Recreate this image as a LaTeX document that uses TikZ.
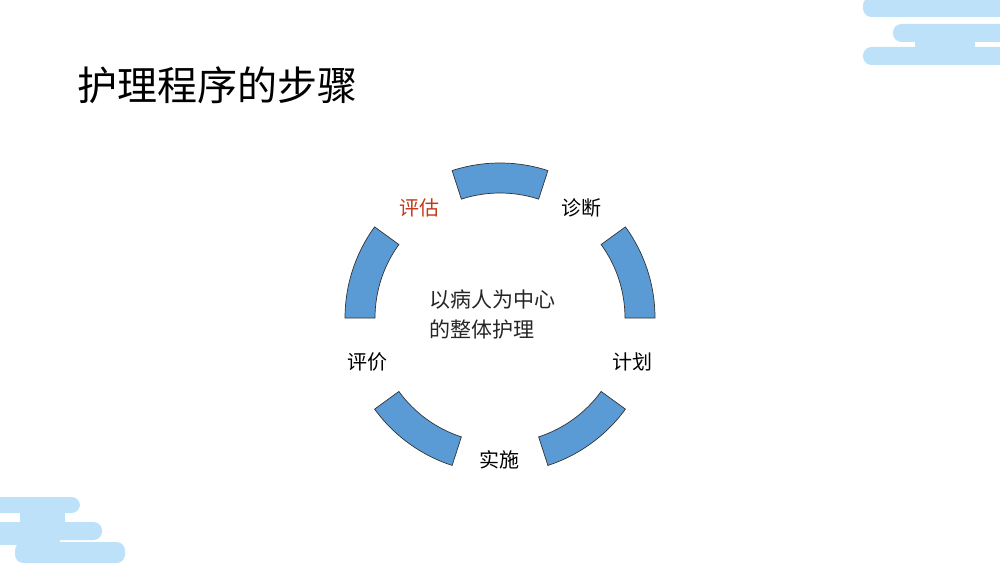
\documentclass[tikz,border=0pt]{standalone}
\usepackage{fontspec}
\setmainfont{Noto Sans CJK SC}
\begin{document}
\begin{tikzpicture}[x=1pt,y=1pt,
  seg/.style={fill=segblue,draw=black!80,line width=0.7pt},
  cloud/.style={fill=cloudblue,rounded corners=8.5pt},
  lab/.style={font=\fontsize{20}{24}\selectfont,text=black}]
\definecolor{segblue}{HTML}{5B9BD5}
\definecolor{cloudblue}{HTML}{BDE1F8}
\definecolor{redlab}{HTML}{C5391A}
\useasboundingbox (0,0) rectangle (1000,563);
\fill[white] (0,0) rectangle (1000,563);
% top-right clouds
\begin{scope}
\clip (0,0) rectangle (1000,563);
\fill[cloudblue] (975,521) rectangle (1010,539);
\fill[cloudblue] (915,512) rectangle (975,521);
\fill[cloud] (863,546) rectangle (1020,566);
\fill[cloud] (893,521) rectangle (1020,539);
\fill[cloud] (863,498) rectangle (1020,516);
% bottom-left clouds
\fill[cloudblue] (20,40) rectangle (65,50);
\fill[cloud] (-20,50) rectangle (80,66);
\fill[cloud] (-20,23) rectangle (102,41);
\fill[cloud] (15,0) rectangle (125,21);
\fill[cloudblue] (-5,18) rectangle (60,25);
\end{scope}
\node[anchor=west,font=\fontsize{40}{46}\selectfont] (title) at (74,478) {护理程序的步骤};
\begin{scope}[shift={(500,245)}]
\foreach \a/\n in {0/s1,72/s2,144/s3,216/s4,288/s5}{
  \draw[seg] (\a:155) arc[start angle=\a,end angle=\a+36,radius=155]
     -- (\a+36:125) arc[start angle=\a+36,end angle=\a,radius=125] -- cycle;
}
\coordinate (c) at (0,0);
\end{scope}
\node[lab,text=redlab] (pg) at (419,355) {评估};
\node[lab] (zd) at (581,355) {诊断};
\node[lab] (jh) at (632,201) {计划};
\node[lab] (ss) at (499,103) {实施};
\node[lab] (pj) at (367,201) {评价};
\node[anchor=west,align=left,text=black!85,font=\fontsize{21}{30}\selectfont] (center) at (426,248) {以病人为中心\\的整体护理};
\end{tikzpicture}
\end{document}
